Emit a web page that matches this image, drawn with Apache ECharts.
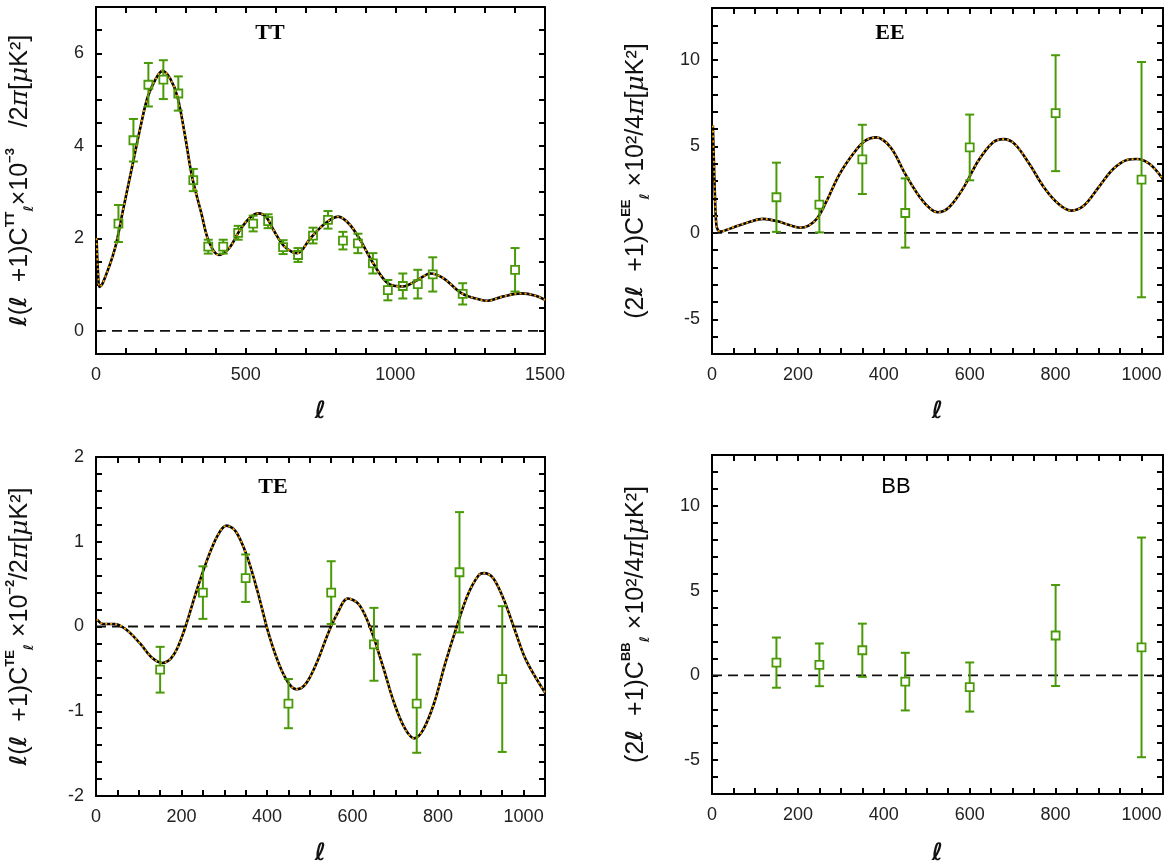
<!DOCTYPE html>
<html>
<head>
<meta charset="utf-8">
<script src="https://cdn.jsdelivr.net/npm/echarts@6/dist/echarts.min.js"></script>
<style>
html, body { margin: 0; padding: 0; background: #fff; }
#chart { width: 1169px; height: 867px; }
</style>
</head>
<body>
<div id="chart"></div>
<script>
// model curves (ell, value)
var ttEll = [2, 6, 12, 20, 30, 50, 68, 90, 123, 150, 173, 200, 222, 248, 272, 296, 321, 352, 377, 410, 444, 481, 515, 543, 570, 593, 630, 673, 716, 765, 809, 846, 883, 926, 975, 1025, 1074, 1117, 1160, 1222, 1284, 1309, 1358, 1420, 1469, 1500];
var ttModel = [2.0, 1.35, 0.95, 1.0, 1.15, 1.5, 1.9, 2.6, 3.62, 4.45, 5.06, 5.45, 5.62, 5.45, 5.06, 4.27, 3.33, 2.54, 1.93, 1.64, 1.78, 2.18, 2.45, 2.54, 2.45, 2.18, 1.82, 1.68, 2.0, 2.32, 2.47, 2.31, 1.96, 1.46, 1.03, 0.96, 1.1, 1.24, 1.14, 0.81, 0.67, 0.65, 0.74, 0.81, 0.76, 0.67];

var eeEll = [2, 4, 7, 10, 14, 21, 35, 51, 85, 119, 153, 180, 205, 225, 245, 265, 297, 331, 357, 382, 416, 450, 484, 509, 526, 552, 586, 620, 654, 679, 705, 739, 773, 807, 836, 866, 900, 934, 968, 989, 1019, 1050];
var eeModel = [6.2, 4.5, 2.0, 0.5, 0.15, 0.08, 0.18, 0.33, 0.62, 0.81, 0.67, 0.45, 0.3, 0.42, 0.85, 1.75, 3.4, 4.65, 5.33, 5.52, 4.94, 3.4, 2.06, 1.38, 1.19, 1.48, 2.63, 4.17, 5.23, 5.42, 5.13, 3.98, 2.63, 1.67, 1.29, 1.58, 2.63, 3.69, 4.23, 4.27, 3.98, 3.1];

var teEll = [2, 17, 43, 69, 103, 129, 155, 181, 206, 232, 258, 284, 305, 327, 353, 378, 404, 430, 452, 469, 490, 516, 542, 563, 589, 615, 641, 671, 697, 722, 744, 765, 791, 817, 843, 869, 894, 907, 929, 955, 980, 1006, 1050];
var teModel = [0.085, 0.03, 0.03, -0.03, -0.2, -0.36, -0.43, -0.34, -0.05, 0.37, 0.76, 1.07, 1.19, 1.12, 0.83, 0.41, -0.09, -0.47, -0.68, -0.74, -0.68, -0.43, -0.09, 0.14, 0.33, 0.26, -0.01, -0.47, -0.9, -1.2, -1.32, -1.22, -0.9, -0.43, -0.01, 0.37, 0.6, 0.63, 0.57, 0.3, -0.05, -0.4, -0.78];

// binned measurements: centre, value, half error
var ttBinEll = [75, 125, 175, 225, 275, 325, 375, 425, 475, 525, 575, 625, 675, 725, 775, 825, 875, 925, 975, 1025, 1075, 1125, 1225, 1400];
var ttBinVal = [2.32, 4.12, 5.32, 5.43, 5.13, 3.26, 1.82, 1.82, 2.12, 2.32, 2.37, 1.81, 1.64, 2.06, 2.4, 1.95, 1.89, 1.46, 0.88, 0.97, 1.01, 1.22, 0.8, 1.32];
var ttBinErr = [0.4, 0.46, 0.47, 0.42, 0.37, 0.24, 0.15, 0.15, 0.15, 0.17, 0.15, 0.15, 0.15, 0.17, 0.19, 0.19, 0.21, 0.22, 0.22, 0.27, 0.31, 0.37, 0.23, 0.47];

var eeBinEll = [150, 250, 350, 450, 600, 800, 1000];
var eeBinVal = [2.06, 1.63, 4.25, 1.15, 4.94, 6.92, 3.08];
var eeBinErr = [2.0, 1.6, 2.0, 2.0, 1.9, 3.35, 6.8];

var teBinEll = [150, 250, 350, 450, 550, 650, 750, 850, 950];
var teBinVal = [-0.51, 0.4, 0.57, -0.91, 0.4, -0.21, -0.91, 0.64, -0.62];
var teBinErr = [0.27, 0.31, 0.28, 0.29, 0.37, 0.43, 0.58, 0.71, 0.86];

var bbBinEll = [150, 250, 350, 450, 600, 800, 1000];
var bbBinVal = [0.75, 0.62, 1.48, -0.37, -0.69, 2.35, 1.65];
var bbBinErr = [1.48, 1.26, 1.57, 1.7, 1.45, 2.98, 6.48];

var GREEN = '#4a9a08';

function pairs(xs, ys) {
    return xs.map(function (x, i) { return [x, ys[i]]; });
}
function triples(xs, ys, es) {
    return xs.map(function (x, i) { return [x, ys[i], es[i]]; });
}
function isMult(v, step) {
    var r = v / step;
    return Math.abs(r - Math.round(r)) < 1e-6;
}

// error bar with caps and an open square
function renderErr(params, api) {
    var x = api.value(0), y = api.value(1), e = api.value(2);
    var c = api.coord([x, y]);
    var top = api.coord([x, y + e])[1];
    var bot = api.coord([x, y - e])[1];
    var h = 4, w = 4.5;
    var st = { stroke: GREEN, lineWidth: 2 };
    return {
        type: 'group',
        children: [
            { type: 'line', shape: { x1: c[0], y1: top, x2: c[0], y2: c[1] - h }, style: st },
            { type: 'line', shape: { x1: c[0], y1: c[1] + h, x2: c[0], y2: bot }, style: st },
            { type: 'line', shape: { x1: c[0] - w, y1: top, x2: c[0] + w, y2: top }, style: st },
            { type: 'line', shape: { x1: c[0] - w, y1: bot, x2: c[0] + w, y2: bot }, style: st },
            { type: 'rect', shape: { x: c[0] - h, y: c[1] - h, width: 2 * h, height: 2 * h },
              style: { stroke: GREEN, lineWidth: 1.8, fill: 'transparent' } }
        ]
    };
}

var tickFont = { fontFamily: 'Liberation Sans', fontSize: 18, color: '#222' };
var nameRich = {
    l: { fontFamily: 'DejaVu Sans', fontStyle: 'italic', fontWeight: 'bold', fontSize: 23, lineHeight: 32, color: '#111' },
    n: { fontFamily: 'Liberation Sans', fontSize: 25, lineHeight: 32, color: '#111' },
    p: { fontFamily: 'DejaVu Serif', fontStyle: 'italic', fontSize: 25, lineHeight: 32, color: '#111' },
    sup: { fontFamily: 'Liberation Sans', fontWeight: 'bold', fontSize: 13, lineHeight: 15, verticalAlign: 'top', color: '#111' },
    sub: { fontFamily: 'DejaVu Sans', fontStyle: 'italic', fontWeight: 'bold', fontSize: 13, lineHeight: 15, verticalAlign: 'bottom', color: '#111' }
};

var panels = [
    { grid: { left: 96, top: 7, width: 449, height: 347 }, x: [0, 1500, 100, 500], y: [-0.5, 7, 0.5, 2],
      name: '{l|ℓ}{n|(}{l|ℓ}{n|  +1)C}{sup|TT}{sub|ℓ}{n|×10}{sup|−3}{n|   /2}{p|π}{n|[}{p|μ}{n|K²]}',
      title: 'TT', tfont: 'bold 22px "Liberation Serif"', tx: 270, ty: 33, xgap: 46 },
    { grid: { left: 712, top: 8, width: 451, height: 346 }, x: [0, 1050, 50, 200], y: [-7, 13, 1, 5],
      name: '{n|(2}{l|ℓ}{n|  +1)C}{sup|EE}{sub|ℓ}{n| ×10²/4}{p|π}{n|[}{p|μ}{n|K²]}',
      title: 'EE', tfont: 'bold 22px "Liberation Serif"', tx: 890, ty: 33, xgap: 46 },
    { grid: { left: 96, top: 457, width: 449, height: 346 }, x: [0, 1050, 50, 200], y: [-2, 2, 0.2, 1],
      name: '{l|ℓ}{n|(}{l|ℓ}{n|  +1)C}{sup|TE}{sub|ℓ}{n| ×10}{sup|−2}{n|/2}{p|π}{n|[}{p|μ}{n|K²]}',
      title: 'TE', tfont: 'bold 22px "Liberation Serif"', tx: 273, ty: 487, xgap: 46 },
    { grid: { left: 712, top: 455, width: 451, height: 346 }, x: [0, 1050, 50, 200], y: [-7, 13, 1, 5],
      name: '{n|(2}{l|ℓ}{n|  +1)C}{sup|BB}{sub|ℓ}{n| ×10²/4}{p|π}{n|[}{p|μ}{n|K²]}',
      title: 'BB', tfont: '22px "Liberation Sans"', tx: 896, ty: 487, xgap: 48 }
];

var grids = [], xAxes = [], yAxes = [], graphics = [];
panels.forEach(function (p, i) {
    grids.push(p.grid);
    var frame = { show: true, onZero: false, lineStyle: { color: '#000', width: 2 } };
    var tick = { show: true, inside: true, length: 6, lineStyle: { color: '#000', width: 2 } };
    xAxes.push({
        type: 'value', gridIndex: i, position: 'bottom', min: p.x[0], max: p.x[1], interval: p.x[2],
        axisLine: frame, axisTick: tick, splitLine: { show: false },
        axisLabel: Object.assign({ margin: 12, formatter: function (v) { return isMult(v, p.x[3]) ? String(v) : ''; } }, tickFont),
        name: 'ℓ', nameLocation: 'middle', nameGap: p.xgap,
        nameTextStyle: { fontFamily: 'DejaVu Sans', fontStyle: 'italic', fontWeight: 'bold', fontSize: 24, color: '#111' }
    });
    xAxes.push({
        type: 'value', gridIndex: i, position: 'top', min: p.x[0], max: p.x[1], interval: p.x[2],
        axisLine: frame, axisTick: tick, axisLabel: { show: false }, splitLine: { show: false }
    });
    yAxes.push({
        type: 'value', gridIndex: i, position: 'left', min: p.y[0], max: p.y[1], interval: p.y[2],
        axisLine: frame, axisTick: tick, splitLine: { show: false },
        axisLabel: Object.assign({ margin: 12, formatter: function (v) { return isMult(v, p.y[3]) ? String(Math.round(v)) : ''; } }, tickFont),
        name: p.name, nameLocation: 'middle', nameGap: 60,
        nameTextStyle: { rich: nameRich }
    });
    yAxes.push({
        type: 'value', gridIndex: i, position: 'right', min: p.y[0], max: p.y[1], interval: p.y[2],
        axisLine: frame, axisTick: tick, axisLabel: { show: false }, splitLine: { show: false }
    });
    graphics.push({
        type: 'text', x: p.tx, y: p.ty, z: 10,
        style: { text: p.title, font: p.tfont, fill: '#000', textAlign: 'center', textVerticalAlign: 'middle' }
    });
});

var series = [];
function addZero(i) {
    var p = panels[i];
    series.push({
        type: 'line', xAxisIndex: 2 * i, yAxisIndex: 2 * i, data: [[p.x[0], 0], [p.x[1], 0]],
        symbol: 'none', silent: true, z: 1,
        lineStyle: { color: '#111', width: 1.8, type: [10, 6] }
    });
}
function addModel(i, xs, ys) {
    var d = pairs(xs, ys);
    series.push({
        type: 'line', xAxisIndex: 2 * i, yAxisIndex: 2 * i, data: d, smooth: 0.35, symbol: 'none', z: 2,
        lineStyle: { color: '#000', width: 2.6 }
    });
    series.push({
        type: 'line', xAxisIndex: 2 * i, yAxisIndex: 2 * i, data: d, smooth: 0.35, symbol: 'none', z: 3,
        lineStyle: { color: '#ffa500', width: 1.8, type: [2, 3] }
    });
}
function addBins(i, xs, ys, es) {
    series.push({
        type: 'custom', xAxisIndex: 2 * i, yAxisIndex: 2 * i, z: 5, clip: true,
        data: triples(xs, ys, es), renderItem: renderErr
    });
}

addZero(0); addModel(0, ttEll, ttModel); addBins(0, ttBinEll, ttBinVal, ttBinErr);
addZero(1); addModel(1, eeEll, eeModel); addBins(1, eeBinEll, eeBinVal, eeBinErr);
addZero(2); addModel(2, teEll, teModel); addBins(2, teBinEll, teBinVal, teBinErr);
addZero(3); addBins(3, bbBinEll, bbBinVal, bbBinErr);

var myChart = echarts.init(document.getElementById('chart'));
myChart.setOption({
    animation: false,
    backgroundColor: '#fff',
    grid: grids,
    xAxis: xAxes,
    yAxis: yAxes,
    graphic: graphics,
    series: series
});
</script>
</body>
</html>
